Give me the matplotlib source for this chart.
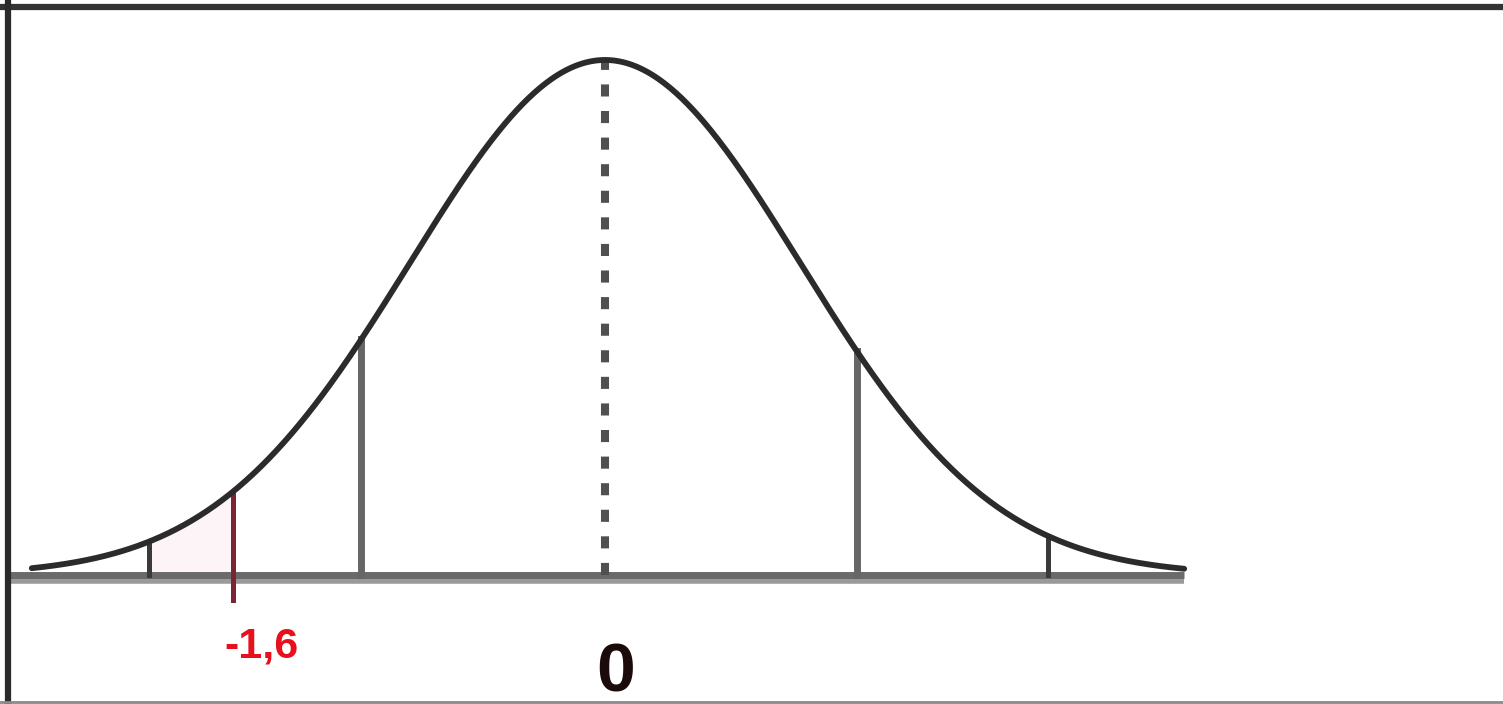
import matplotlib
matplotlib.use("Agg")
import matplotlib.pyplot as plt
from matplotlib.lines import Line2D
import numpy as np

# standard normal curve, drawn in z units
mu, sigma = 0.0, 1.0
z_start, z_end = -2.94, 2.97

# vertical markers (z position)
tail_marks = [-2.34, 2.27]
inner_marks = [-1.25, 1.29]
crit_z = -1.91
crit_label = "-1,6"
center_label = "0"


def pdf(z):
    return np.exp(-0.5 * ((z - mu) / sigma) ** 2) / (sigma * np.sqrt(2 * np.pi))


fig = plt.figure(figsize=(15.03, 7.04), dpi=100)
ax = fig.add_axes([0, 0, 1, 1])
ax.set_xlim(-3.103, 4.605)
ax.set_ylim(-0.0999, 0.4454)
ax.axis("off")

# faint shading of the small tail region
zs = np.linspace(tail_marks[0], crit_z, 50)
ax.fill_between(zs, 0, pdf(zs), color="#fdf4f7", lw=0, zorder=1)

# baseline (dark band with a lighter band under it)
ax.plot([-3.05, z_end], [-0.0045, -0.0045], color="#9a9a9a", lw=4.0,
        solid_capstyle="butt", zorder=2)
ax.plot([-3.05, z_end], [0, 0], color="#6a6a6a", lw=5.0, solid_capstyle="butt", zorder=2)

# curve
z = np.linspace(z_start, z_end, 600)
ax.plot(z, pdf(z), color="#2b2b2b", lw=4.2, solid_capstyle="round", zorder=4)

# dotted mean line
ax.plot([mu, mu], [0, pdf(mu)], color="#505050", lw=5.8,
        linestyle=(0, (1.5, 1.8)), zorder=3)

for m in inner_marks:
    ax.plot([m, m], [0, pdf(m)], color="#666666", lw=5.0, zorder=3)
for m in tail_marks:
    ax.plot([m, m], [0, pdf(m)], color="#3a3a3a", lw=3.6, zorder=3)

ax.plot([crit_z, crit_z], [-0.019, pdf(crit_z)], color="#7a2436", lw=3.6, zorder=3)

ax.text(crit_z + 0.15, -0.055, crit_label, color="#e8101c", fontsize=31,
        fontweight="bold", ha="center", va="center",
        family=["Liberation Sans", "DejaVu Sans"])
ax.text(0.055, -0.0765, center_label, color="#1a0a0a", fontsize=50,
        fontweight="bold", ha="center", va="center",
        family=["Liberation Sans Narrow", "Liberation Sans", "DejaVu Sans"])

# picture frame: top and left dark edges, thin bottom edge
fig.add_artist(Line2D([0, 1], [1 - 7 / 704] * 2, color="#333333", lw=4.5,
                      transform=fig.transFigure))
fig.add_artist(Line2D([8 / 1503] * 2, [0, 1], color="#2a2a2a", lw=4.5,
                      transform=fig.transFigure))
fig.add_artist(Line2D([0, 1], [2.5 / 704] * 2, color="#8a8a8a", lw=2,
                      transform=fig.transFigure))

fig.savefig("out.png", dpi=100, facecolor="white")
